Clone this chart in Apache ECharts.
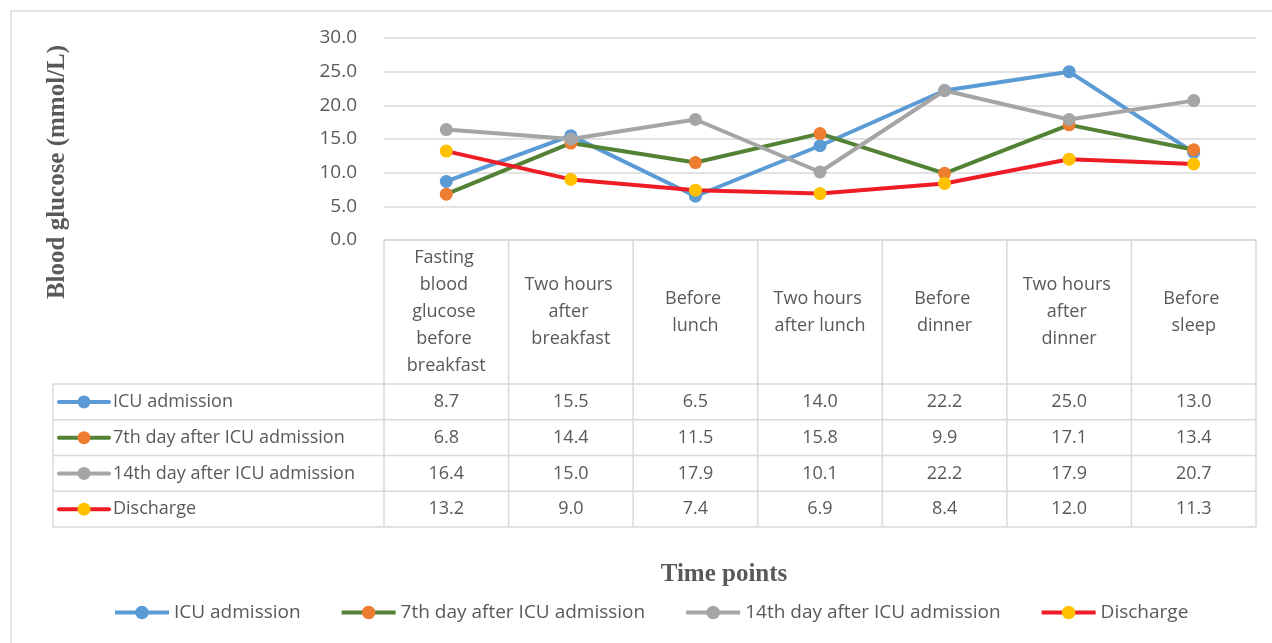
<!DOCTYPE html>
<html>
<head>
<meta charset="utf-8">
<script src="https://cdn.jsdelivr.net/npm/echarts@6/dist/echarts.min.js"></script>
<style>
  html, body { margin: 0; padding: 0; background: #fff; }
  #chart { width: 1272px; height: 643px; }
</style>
</head>
<body>
<div id="chart"></div>
<script>
// 时间点（类目）
var timePoints = [
  "Fasting blood glucose before breakfast",
  "Two hours after breakfast",
  "Before lunch",
  "Two hours after lunch",
  "Before dinner",
  "Two hours after dinner",
  "Before sleep"
];
var seriesNames = ["ICU admission", "7th day after ICU admission", "14th day after ICU admission", "Discharge"];
var icuAdmission = [8.7, 15.5, 6.5, 14.0, 22.2, 25.0, 13.0];
var day7 = [6.8, 14.4, 11.5, 15.8, 9.9, 17.1, 13.4];
var day14 = [16.4, 15.0, 17.9, 10.1, 22.2, 17.9, 20.7];
var discharge = [13.2, 9.0, 7.4, 6.9, 8.4, 12.0, 11.3];
var yTicks = [0, 5, 10, 15, 20, 25, 30];

var allValues = [icuAdmission, day7, day14, discharge];
var lineColors = ["#5B9BD5", "#548235", "#A5A5A5", "#EE1C25"];
var markerColors = ["#5B9BD5", "#ED7D31", "#A5A5A5", "#FFC000"];

var FONT = '"Open Sans", "Liberation Sans", sans-serif';
var TXT = "#595959";
var GRID_C = "#d9d9d9";

// 布局
var gLeft = 384, gRight = 1256, gTop = 38, gBottom = 240;
var headBottom = 384, tableLeft = 53;
var rowH = (527 - headBottom) / 4;
var colW = (gRight - gLeft) / timePoints.length;

var chart = echarts.init(document.getElementById("chart"));

function line(x1, y1, x2, y2) {
  return {
    type: "line", silent: true,
    shape: { x1: x1, y1: y1, x2: x2, y2: y2 },
    style: { stroke: GRID_C, lineWidth: 1.5 }
  };
}

// 数据表（由数组生成）
var graphics = [];
graphics.push({
  type: "rect", silent: true,
  shape: { x: 11, y: 11, width: 1270, height: 640 },
  style: { fill: null, stroke: GRID_C, lineWidth: 1.5 }
});
graphics.push(line(gLeft, gBottom, gRight, gBottom));
for (var c = 0; c <= timePoints.length; c++) {
  var x = gLeft + c * colW;
  graphics.push(line(x, gBottom, x, 527));
}
graphics.push(line(tableLeft, headBottom, tableLeft, 527));
for (var r = 0; r <= 4; r++) {
  graphics.push(line(tableLeft, headBottom + r * rowH, gRight, headBottom + r * rowH));
}
for (var i = 0; i < seriesNames.length; i++) {
  var cy = headBottom + (i + 0.5) * rowH;
  graphics.push({
    type: "line", silent: true,
    shape: { x1: 59, y1: cy, x2: 109, y2: cy },
    style: { stroke: lineColors[i], lineWidth: 4, lineCap: "round" }
  });
  graphics.push({
    type: "circle", silent: true,
    shape: { cx: 84, cy: cy, r: 6.5 },
    style: { fill: markerColors[i] }
  });
  graphics.push({
    type: "text", silent: true,
    style: { text: seriesNames[i], x: 113, y: cy, textVerticalAlign: "middle", font: "18px " + FONT, fill: TXT }
  });
  for (var j = 0; j < timePoints.length; j++) {
    graphics.push({
      type: "text", silent: true,
      style: {
        text: allValues[i][j].toFixed(1),
        x: gLeft + (j + 0.5) * colW, y: cy,
        textAlign: "center", textVerticalAlign: "middle",
        font: "18px " + FONT, fill: TXT
      }
    });
  }
}
// 轴标题
graphics.push({
  type: "text", silent: true, rotation: Math.PI / 2, x: 58, y: 172,
  style: { text: "Blood glucose (mmol/L)", x: 0, y: 0, textAlign: "center", textVerticalAlign: "middle",
    font: "bold 25px 'Liberation Serif', serif", fill: TXT }
});
graphics.push({
  type: "text", silent: true,
  style: { text: "Time points", x: 724, y: 575, textAlign: "center", textVerticalAlign: "middle",
    font: "bold 25px 'Liberation Serif', serif", fill: TXT }
});

var series = seriesNames.map(function (name, i) {
  return {
    name: name,
    type: "line",
    data: allValues[i],
    symbol: "circle",
    symbolSize: 13,
    lineStyle: { color: lineColors[i], width: 4 },
    itemStyle: { color: markerColors[i] },
    emphasis: { disabled: true },
    z: 3 + i
  };
});

chart.setOption({
  animation: false,
  textStyle: { fontFamily: FONT },
  grid: {
    left: gLeft, right: 1272 - gRight, top: gTop, bottom: 643 - gBottom,
    containLabel: false, outerBoundsMode: "none"
  },
  legend: {
    data: seriesNames,
    left: 108, top: 598,
    itemWidth: 54, itemHeight: 17, itemGap: 39,
    lineStyle: { width: 4 },
    textStyle: { fontSize: 19, color: TXT, fontFamily: FONT }
  },
  xAxis: {
    type: "category",
    data: timePoints,
    boundaryGap: true,
    axisLine: { show: false },
    axisTick: { show: false },
    axisLabel: {
      interval: 0,
      margin: (headBottom - gBottom) / 2,
      verticalAlign: "middle",
      align: "center",
      width: 95,
      overflow: "break",
      lineHeight: 27,
      fontSize: 18,
      color: TXT,
      fontFamily: FONT
    }
  },
  yAxis: {
    type: "value",
    min: yTicks[0],
    max: yTicks[yTicks.length - 1],
    interval: 5,
    axisLine: { show: false },
    axisTick: { show: false },
    axisLabel: {
      margin: 27,
      fontSize: 19,
      color: TXT,
      fontFamily: FONT,
      formatter: function (v) { return v.toFixed(1); }
    },
    splitLine: { lineStyle: { color: GRID_C, width: 1.5 } }
  },
  graphic: graphics,
  series: series
});
</script>
</body>
</html>
